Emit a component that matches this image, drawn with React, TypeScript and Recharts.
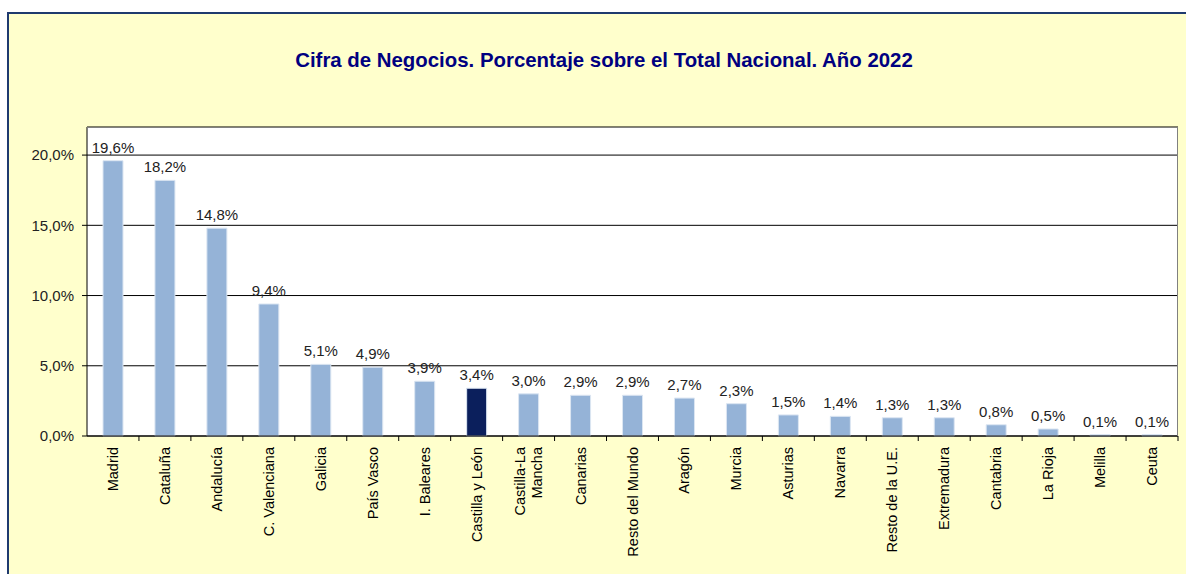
import { BarChart, Bar, XAxis, YAxis, CartesianGrid, Cell, LabelList } from "recharts";

const regions: string[] = [
  "Madrid",
  "Cataluña",
  "Andalucía",
  "C. Valenciana",
  "Galicia",
  "País Vasco",
  "I. Baleares",
  "Castilla y León",
  "Castilla-La\nMancha",
  "Canarias",
  "Resto del Mundo",
  "Aragón",
  "Murcia",
  "Asturias",
  "Navarra",
  "Resto de la U.E.",
  "Extremadura",
  "Cantabria",
  "La Rioja",
  "Melilla",
  "Ceuta",
];

const shares: number[] = [
  19.6, 18.2, 14.8, 9.4, 5.1, 4.9, 3.9, 3.4, 3.0, 2.9, 2.9, 2.7, 2.3, 1.5, 1.4,
  1.3, 1.3, 0.8, 0.5, 0.1, 0.1,
];

const yTicks: number[] = [0, 5, 10, 15, 20];

const highlight = "Castilla y León";

const data = regions.map((name, i) => ({ name, value: shares[i] }));

const W = 1186;
const H = 574;
const PLOT_LEFT = 87;
const PLOT_RIGHT = 1178;
const PLOT_TOP = 127;
const PLOT_BOTTOM = 436;
const BAND = (PLOT_RIGHT - PLOT_LEFT) / regions.length;

const FONT = "'Liberation Sans', Arial, sans-serif";

const pct = (v: number) => v.toFixed(1).replace(".", ",") + "%";

const XTick = (props: any) => {
  const { x, y, payload } = props;
  const lines = String(payload.value).split("\n");
  const step = 17;
  const start = -((lines.length - 1) * step) / 2;
  return (
    <g>
      <line x1={x + BAND / 2} x2={x + BAND / 2} y1={y} y2={y + 5} stroke="#000" />
      {lines.map((ln, i) => (
        <text
          key={i}
          transform={`translate(${x + start + i * step},${y + 11}) rotate(-90)`}
          textAnchor="end"
          dominantBaseline="central"
          fontSize={14.5}
          fontFamily={FONT}
          fill="#000"
        >
          {ln}
        </text>
      ))}
    </g>
  );
};

export default function App() {
  return (
    <div
      style={{
        position: "absolute",
        left: 0,
        top: 0,
        width: W,
        height: H,
        overflow: "hidden",
        background: "#fff",
      }}
    >
      <div
        style={{
          position: "absolute",
          left: 7,
          top: 12,
          width: 1200,
          height: 600,
          border: "2px solid #1F3A6E",
          background: "#FFFFCC",
        }}
      />
      <div
        style={{
          position: "absolute",
          left: 11,
          width: W,
          top: 49,
          textAlign: "center",
          fontFamily: FONT,
          fontWeight: "bold",
          fontSize: 20.4,
          color: "#000080",
        }}
      >
        Cifra de Negocios. Porcentaje sobre el Total Nacional. Año 2022
      </div>
      <div style={{ position: "absolute", left: 0, top: 0 }}>
        <BarChart
          width={W}
          height={H}
          data={data}
          margin={{ top: PLOT_TOP, right: W - PLOT_RIGHT, bottom: 0, left: 0 }}
        >
          <CartesianGrid vertical={false} stroke="#000" fill="#fff" fillOpacity={1} />
          <XAxis
            dataKey="name"
            interval={0}
            height={H - PLOT_BOTTOM}
            tickLine={false}
            tickSize={0}
            tickMargin={0}
            axisLine={{ stroke: "#000" }}
            tick={<XTick />}
          />
          <YAxis
            width={PLOT_LEFT}
            domain={[0, 22]}
            ticks={yTicks}
            tickFormatter={pct}
            tickSize={5}
            tickMargin={8}
            axisLine={{ stroke: "#000" }}
            tickLine={{ stroke: "#000" }}
            tick={{ fontSize: 15, fill: "#222", fontFamily: FONT }}
          />
          <Bar dataKey="value" barSize={20} stroke="#DCE6F2" strokeWidth={1} isAnimationActive={false}>
            {data.map((d) => (
              <Cell key={d.name} fill={d.name === highlight ? "#0B1F5C" : "#95B3D7"} />
            ))}
            <LabelList
              dataKey="value"
              position="top"
              offset={8}
              formatter={(v: any) => pct(Number(v))}
              style={{ fontSize: 15, fill: "#222", fontFamily: FONT }}
            />
          </Bar>
        </BarChart>
      </div>
      <div
        style={{
          position: "absolute",
          left: PLOT_LEFT,
          top: PLOT_TOP,
          width: PLOT_RIGHT - PLOT_LEFT,
          height: PLOT_BOTTOM - PLOT_TOP,
          borderTop: "1px solid #808080",
          borderRight: "1px solid #808080",
          boxSizing: "border-box",
          pointerEvents: "none",
        }}
      />
    </div>
  );
}
